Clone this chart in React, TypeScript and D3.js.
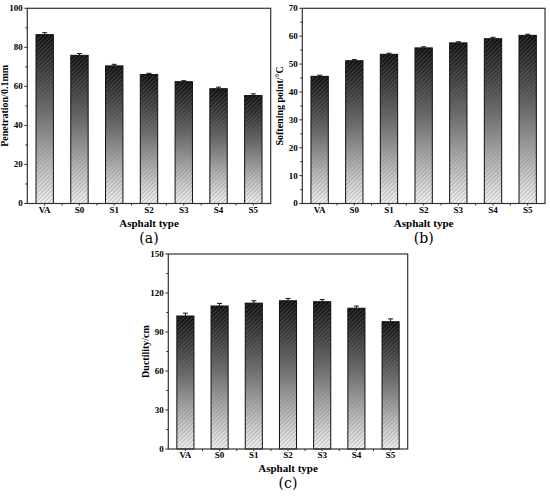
import * as d3 from "d3";

const categories = ["VA", "S0", "S1", "S2", "S3", "S4", "S5"];

const penetration = [86.5, 75.9, 70.5, 66.1, 62.4, 58.8, 55.3];
const penetrationErr = [1.0, 0.9, 0.8, 0.6, 0.5, 0.8, 0.9];

const softening = [45.6, 51.2, 53.5, 55.8, 57.6, 59.1, 60.3];
const softeningErr = [0.4, 0.4, 0.4, 0.4, 0.4, 0.5, 0.4];

const ductility = [102.3, 110.0, 112.2, 114.0, 113.3, 108.3, 97.9];
const ductilityErr = [2.2, 2.0, 1.8, 1.8, 1.6, 1.6, 2.2];

const FONT = "'Liberation Serif', 'Times New Roman', serif";

interface PanelProps {
  x0: number;
  x1: number;
  y0: number;
  y1: number;
  values: number[];
  errors: number[];
  yMax: number;
  yStep: number;
  yLabel: string;
  letter: string;
}

const Panel = ({ x0, x1, y0, y1, values, errors, yMax, yStep, yLabel, letter }: PanelProps) => {
  const x = d3.scaleBand().domain(categories).range([x0, x1]).paddingInner(0.5).paddingOuter(0.25);
  const y = d3.scaleLinear().domain([0, yMax]).range([y1, y0]);
  const majors = d3.range(0, yMax + 0.001, yStep);
  const minors = d3.range(yStep / 2, yMax, yStep);
  const step = x.step();
  const bounds = d3.range(1, categories.length).map((i) => x0 + x.paddingOuter() * step + i * step - (x.paddingInner() * step) / 2);
  const cx = (x0 + x1) / 2;

  return (
    <g>
      {/* bars */}
      {categories.map((c, i) => {
        const bx = x(c) || 0;
        const by = y(values[i]);
        const bw = x.bandwidth();
        const bh = y1 - by;
        const ex = bx + bw / 2;
        return (
          <g key={c}>
            <rect x={bx} y={by} width={bw} height={bh} fill="url(#barGrad)" />
            <rect x={bx} y={by} width={bw} height={bh} fill="url(#hatch)" />
            <rect x={bx} y={by} width={bw} height={bh} fill="none" stroke="#111" strokeWidth={1} />
            <line x1={ex} x2={ex} y1={y(values[i] + errors[i])} y2={by} stroke="#111" strokeWidth={1} />
            <line x1={ex - 2.5} x2={ex + 2.5} y1={y(values[i] + errors[i])} y2={y(values[i] + errors[i])} stroke="#111" strokeWidth={1} />
          </g>
        );
      })}

      {/* frame */}
      <rect x={x0} y={y0} width={x1 - x0} height={y1 - y0} fill="none" stroke="#333" strokeWidth={1.2} />

      {/* y ticks */}
      {majors.map((v) => (
        <g key={"m" + v}>
          <line x1={x0 - 3} x2={x0} y1={y(v)} y2={y(v)} stroke="#333" />
          <text x={x0 - 4.5} y={y(v)} dy="0.33em" textAnchor="end" fontSize={9} fontWeight="bold" fontFamily={FONT}>
            {v}
          </text>
        </g>
      ))}
      {minors.map((v) => (
        <line key={"n" + v} x1={x0 - 2} x2={x0} y1={y(v)} y2={y(v)} stroke="#333" />
      ))}

      {/* x ticks */}
      {categories.map((c) => {
        const tx = (x(c) || 0) + x.bandwidth() / 2;
        return (
          <g key={"x" + c}>
            <line x1={tx} x2={tx} y1={y1} y2={y1 + 2} stroke="#333" />
            <text x={tx} y={y1 + 9} textAnchor="middle" fontSize={9} fontWeight="bold" fontFamily={FONT}>
              {c}
            </text>
          </g>
        );
      })}
      {bounds.map((b, i) => (
        <line key={"b" + i} x1={b} x2={b} y1={y1} y2={y1 + 2} stroke="#333" />
      ))}

      <text x={cx} y={y1 + 23} textAnchor="middle" fontSize={11} fontWeight="bold" fontFamily={FONT}>
        Asphalt type
      </text>
      <text
        transform={`translate(${x0 - 19},${(y0 + y1) / 2}) rotate(-90)`}
        textAnchor="middle"
        fontSize={10}
        fontWeight="bold"
        fontFamily={FONT}
      >
        {yLabel}
      </text>
      <text x={cx} y={y1 + 39} textAnchor="middle" fontSize={14} fontFamily="'DejaVu Serif', serif">
        {letter}
      </text>
    </g>
  );
};

export default function App() {
  return (
    <svg width={550} height={496} style={{ position: "absolute", left: 0, top: 0, background: "#fff" }}>
      <defs>
        <linearGradient id="barGrad" x1="0" y1="0" x2="0" y2="1">
          <stop offset="0" stopColor="#0d0d0d" />
          <stop offset="0.45" stopColor="#6a6a6a" />
          <stop offset="1" stopColor="#f4f4f4" />
        </linearGradient>
        <pattern id="hatch" patternUnits="userSpaceOnUse" width={3} height={3} patternTransform="rotate(45)">
          <line x1={0} y1={0} x2={0} y2={3} stroke="#7a7a7a" strokeWidth={1} strokeOpacity={0.8} />
        </pattern>
      </defs>
      <Panel
        x0={27.3}
        x1={270.7}
        y0={8.3}
        y1={203.5}
        values={penetration}
        errors={penetrationErr}
        yMax={100}
        yStep={20}
        yLabel="Penetration/0.1mm"
        letter="(a)"
      />
      <Panel
        x0={302.3}
        x1={545}
        y0={8.3}
        y1={203.5}
        values={softening}
        errors={softeningErr}
        yMax={70}
        yStep={10}
        yLabel="Softening point/°C"
        letter="(b)"
      />
      <Panel
        x0={168.3}
        x1={407.7}
        y0={254}
        y1={449}
        values={ductility}
        errors={ductilityErr}
        yMax={150}
        yStep={30}
        yLabel="Ductility/cm"
        letter="(c)"
      />
    </svg>
  );
}
